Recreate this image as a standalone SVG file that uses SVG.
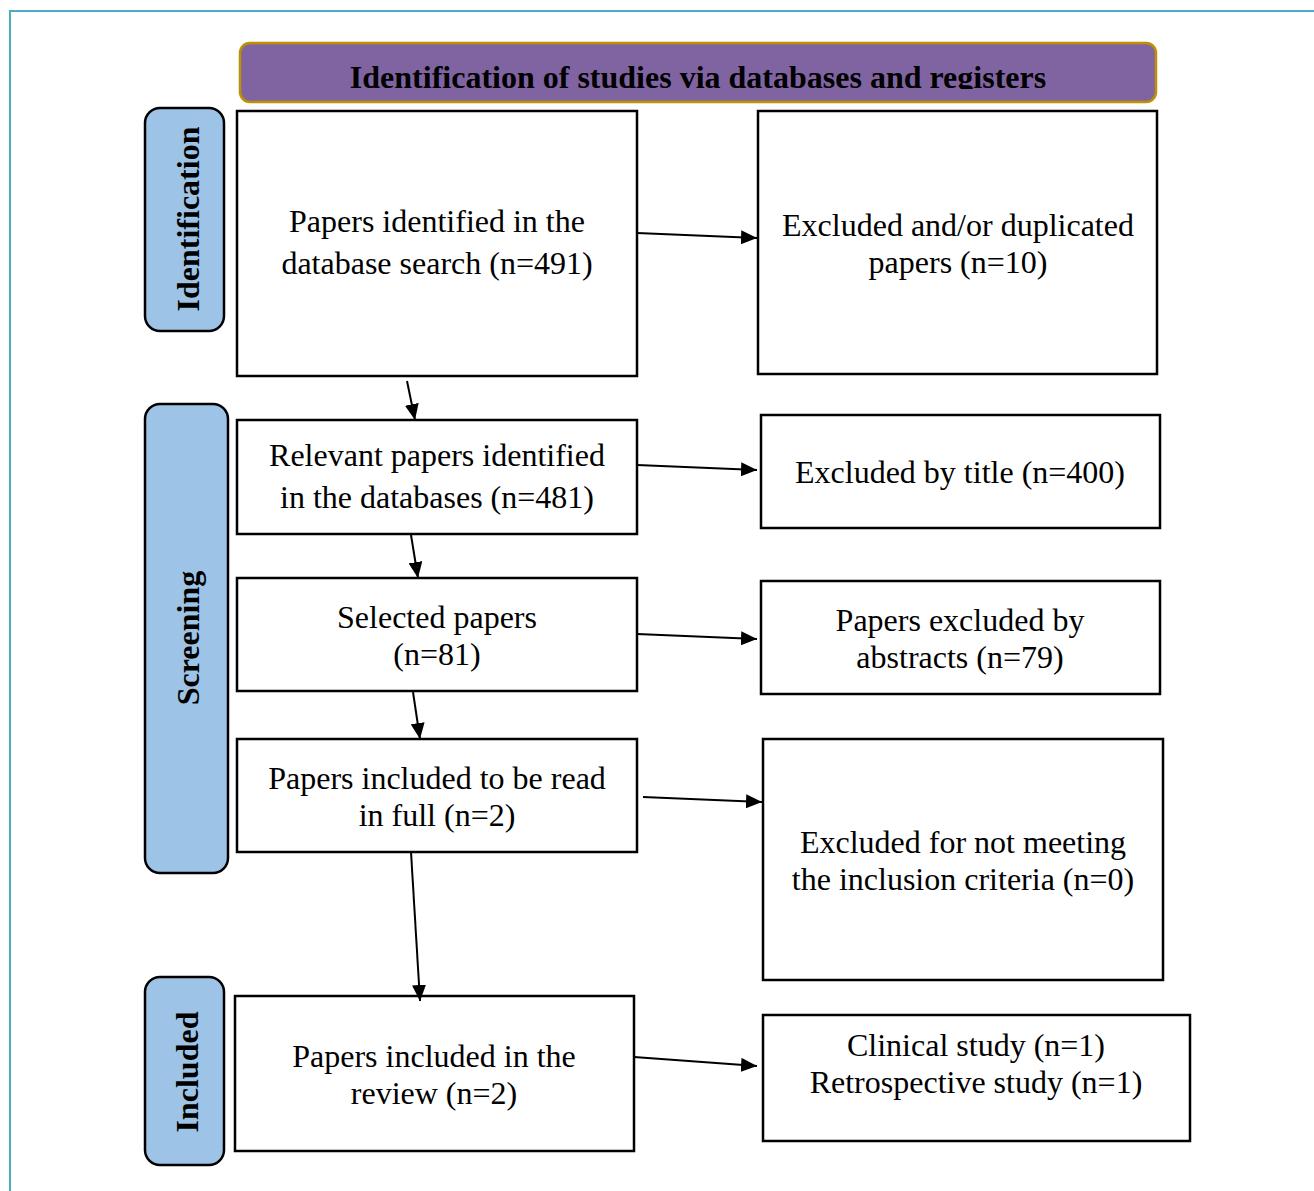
<svg xmlns="http://www.w3.org/2000/svg" width="1314" height="1191" viewBox="0 0 1314 1191">
<defs>
<style>
.t{font-family:"Liberation Serif","Times New Roman",serif;font-size:32px;fill:#000;text-anchor:middle}
.b{font-weight:bold}
.box{fill:#fff;stroke:#000;stroke-width:2.5}
.side{fill:#9DC3E6;stroke:#000;stroke-width:2.5}
.c{stroke:#000;stroke-width:2;fill:none;marker-end:url(#ah)}
</style>
<marker id="ah" viewBox="0 0 10 10" refX="10" refY="5" markerWidth="16" markerHeight="14" markerUnits="userSpaceOnUse" orient="auto" preserveAspectRatio="none">
<path d="M0,0 L10,5 L0,10 z" fill="#000"/>
</marker>
<clipPath id="tc"><rect x="240" y="43" width="916" height="46"/></clipPath>
</defs>
<rect width="1314" height="1191" fill="#fff"/>
<path d="M10,1191 V11 H1314" fill="none" stroke="#4BACC6" stroke-width="2"/>
<g id="title">
<rect x="240" y="43" width="916" height="59" rx="10" fill="#8064A2" stroke="#BF9000" stroke-width="2.5"/>
<text class="t b" x="698" y="88" clip-path="url(#tc)">Identification of studies via databases and registers</text>
</g>
<g id="phase-identification">
<rect class="side" x="145" y="108" width="79" height="223" rx="15"/>
<text class="t b" transform="translate(199,219) rotate(-90)">Identification</text>
</g>
<g id="phase-screening">
<rect class="side" x="145" y="404" width="83" height="469" rx="15"/>
<text class="t b" transform="translate(199,638) rotate(-90)">Screening</text>
</g>
<g id="phase-included">
<rect class="side" x="145" y="977" width="79" height="188" rx="15"/>
<text class="t b" transform="translate(198,1072) rotate(-90)">Included</text>
</g>
<g id="n1">
<rect class="box" x="237" y="111" width="400" height="265"/>
<text class="t" x="437" y="232">Papers identified in the</text>
<text class="t" x="437" y="274">database search (n=491)</text>
</g>
<g id="n2">
<rect class="box" x="758" y="111" width="399" height="263"/>
<text class="t" x="958" y="236">Excluded and/or duplicated</text>
<text class="t" x="958" y="273">papers (n=10)</text>
</g>
<g id="n3">
<rect class="box" x="237" y="420" width="400" height="114"/>
<text class="t" x="437" y="466">Relevant papers identified</text>
<text class="t" x="437" y="508">in the databases (n=481)</text>
</g>
<g id="n4">
<rect class="box" x="761" y="415" width="399" height="113"/>
<text class="t" x="960" y="483">Excluded by title (n=400)</text>
</g>
<g id="n5">
<rect class="box" x="237" y="578" width="400" height="113"/>
<text class="t" x="437" y="628">Selected papers</text>
<text class="t" x="437" y="665">(n=81)</text>
</g>
<g id="n6">
<rect class="box" x="761" y="581" width="399" height="113"/>
<text class="t" x="960" y="631">Papers excluded by</text>
<text class="t" x="960" y="668">abstracts (n=79)</text>
</g>
<g id="n7">
<rect class="box" x="237" y="739" width="400" height="113"/>
<text class="t" x="437" y="789">Papers included to be read</text>
<text class="t" x="437" y="826">in full (n=2)</text>
</g>
<g id="n8">
<rect class="box" x="763" y="739" width="400" height="241"/>
<text class="t" x="963" y="853">Excluded for not meeting</text>
<text class="t" x="963" y="890">the inclusion criteria (n=0)</text>
</g>
<g id="n9">
<rect class="box" x="235" y="996" width="399" height="155"/>
<text class="t" x="434" y="1067">Papers included in the</text>
<text class="t" x="434" y="1104">review (n=2)</text>
</g>
<g id="n10">
<rect class="box" x="763" y="1015" width="427" height="126"/>
<text class="t" x="976" y="1056">Clinical study (n=1)</text>
<text class="t" x="976" y="1093">Retrospective study (n=1)</text>
</g>
<g id="connectors">
<line class="c" x1="637" y1="233" x2="757" y2="238"/>
<line class="c" x1="407" y1="381" x2="415" y2="420"/>
<line class="c" x1="637" y1="465" x2="757" y2="470"/>
<line class="c" x1="411" y1="535" x2="418" y2="578"/>
<line class="c" x1="637" y1="634" x2="757" y2="639"/>
<line class="c" x1="413" y1="692" x2="420" y2="739"/>
<line class="c" x1="643" y1="797" x2="762" y2="802"/>
<line class="c" x1="411" y1="852" x2="420" y2="1001"/>
<line class="c" x1="634" y1="1057" x2="757" y2="1066"/>
</g>
</svg>
